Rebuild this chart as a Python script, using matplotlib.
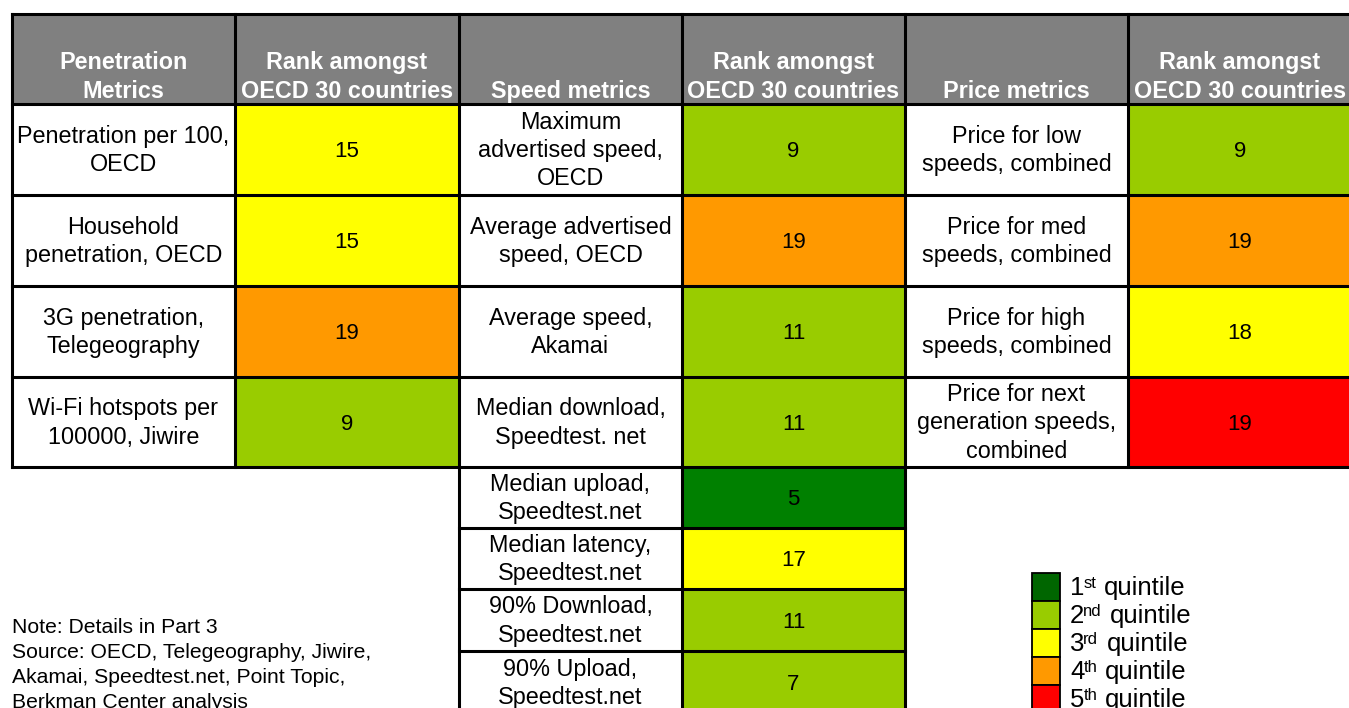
import matplotlib
matplotlib.use("Agg")
import matplotlib.pyplot as plt
from matplotlib.patches import Rectangle

plt.rcParams["font.family"] = ["Liberation Sans", "DejaVu Sans"]

# ---- data ----
headers = ["Penetration\nMetrics", "Rank amongst\nOECD 30 countries",
           "Speed metrics", "Rank amongst\nOECD 30 countries",
           "Price metrics", "Rank amongst\nOECD 30 countries"]

pen_labels = ["Penetration per 100,\nOECD", "Household\npenetration, OECD",
              "3G penetration,\nTelegeography", "Wi-Fi hotspots per\n100000, Jiwire"]
pen_ranks = [15, 15, 19, 9]
pen_quint = [3, 3, 4, 2]

speed_labels = ["Maximum\nadvertised speed,\nOECD", "Average advertised\nspeed, OECD",
                "Average speed,\nAkamai", "Median download,\nSpeedtest. net",
                "Median upload,\nSpeedtest.net", "Median latency,\nSpeedtest.net",
                "90% Download,\nSpeedtest.net", "90% Upload,\nSpeedtest.net"]
speed_ranks = [9, 19, 11, 11, 5, 17, 11, 7]
speed_quint = [2, 4, 2, 2, 1, 3, 2, 2]

price_labels = ["Price for low\nspeeds, combined", "Price for med\nspeeds, combined",
                "Price for high\nspeeds, combined", "Price for next\ngeneration speeds,\ncombined"]
price_ranks = [9, 19, 18, 19]
price_quint = [2, 4, 3, 5]

legend_nums = ["1", "2", "3", "4", "5"]
legend_sups = ["st", "nd", "rd", "th", "th"]
legend_word = "quintile"

note_text = ("Note: Details in Part 3\nSource: OECD, Telegeography, Jiwire,\n"
             "Akamai, Speedtest.net, Point Topic,\nBerkman Center analysis")

cell_colors = {1: "#008000", 2: "#99CC00", 3: "#FFFF00", 4: "#FF9900", 5: "#FF0000"}
legend_colors = ["#006600", "#99CC00", "#FFFF00", "#FF9900", "#FF0000"]

# ---- layout (pixel coordinates) ----
col_x = [12, 235, 459, 682, 905, 1128, 1352]
top, head_bot = 14, 104
main_rows = [104, 195, 286, 377, 467]
extra_rows = [467, 528, 589, 651, 714]
LW = 2.2
FS = 16.8
LS = 1.3

fig = plt.figure(figsize=(13.49, 7.08), dpi=100)
ax = fig.add_axes([0, 0, 1, 1])
ax.set_xlim(0, 1349)
ax.set_ylim(708, 0)
ax.axis("off")

# header
for i, h in enumerate(headers):
    ax.add_patch(Rectangle((col_x[i], top), col_x[i + 1] - col_x[i], head_bot - top,
                           facecolor="#808080", edgecolor="none"))
    ax.text((col_x[i] + col_x[i + 1]) / 2, head_bot - 1, h, ha="center", va="bottom",
            color="white", fontsize=FS, fontweight="bold", linespacing=1.35)


def draw_group(c, labels, ranks, quint, rows):
    for k, (lab, r, q) in enumerate(zip(labels, ranks, quint)):
        y0, y1 = rows[k], rows[k + 1]
        ax.add_patch(Rectangle((col_x[c + 1], y0), col_x[c + 2] - col_x[c + 1], y1 - y0,
                               facecolor=cell_colors[q], edgecolor="none"))
        ym = (y0 + y1) / 2
        ax.text((col_x[c] + col_x[c + 1]) / 2, ym + 1, lab, ha="center", va="center",
                fontsize=FS, linespacing=LS)
        ax.text((col_x[c + 1] + col_x[c + 2]) / 2, ym + 2, str(r), ha="center", va="center",
                fontsize=FS - 0.8)


draw_group(0, pen_labels, pen_ranks, pen_quint, main_rows)
draw_group(2, speed_labels[:4], speed_ranks[:4], speed_quint[:4], main_rows)
draw_group(2, speed_labels[4:], speed_ranks[4:], speed_quint[4:], extra_rows)
draw_group(4, price_labels, price_ranks, price_quint, main_rows)

# grid lines
for y in [top] + main_rows:
    ax.plot([col_x[0], col_x[-1]], [y, y], color="black", lw=LW, solid_capstyle="projecting")
for y in extra_rows[1:]:
    ax.plot([col_x[2], col_x[4]], [y, y], color="black", lw=LW, solid_capstyle="projecting")
for x in col_x:
    ax.plot([x, x], [top, main_rows[-1]], color="black", lw=LW, solid_capstyle="projecting")
for x in col_x[2:5]:
    ax.plot([x, x], [main_rows[-1], extra_rows[-1]], color="black", lw=LW)

# note
ax.text(12, 708, note_text, ha="left", va="baseline", fontsize=15.2, linespacing=1.4)

# legend (number, raised ordinal suffix, word)
fig.canvas.draw()
renderer = fig.canvas.get_renderer()
inv = ax.transData.inverted()
lx, ly, lw_, lh = 1032, 573, 28, 28
for i, col in enumerate(legend_colors):
    ax.add_patch(Rectangle((lx, ly + i * lh), lw_, lh, facecolor=col, edgecolor="black", lw=1.3))
    base = ly + i * lh + 22
    t = ax.text(lx + 38, base, legend_nums[i], ha="left", va="baseline", fontsize=18.5)
    x1 = inv.transform((t.get_window_extent(renderer).x1, 0))[0]
    s = ax.text(x1 - 1, base - 7, legend_sups[i], ha="left", va="baseline", fontsize=12)
    x2 = inv.transform((s.get_window_extent(renderer).x1, 0))[0]
    ax.text(x2 + 8, base, legend_word, ha="left", va="baseline", fontsize=18.5)

fig.savefig("out.png", dpi=100)
